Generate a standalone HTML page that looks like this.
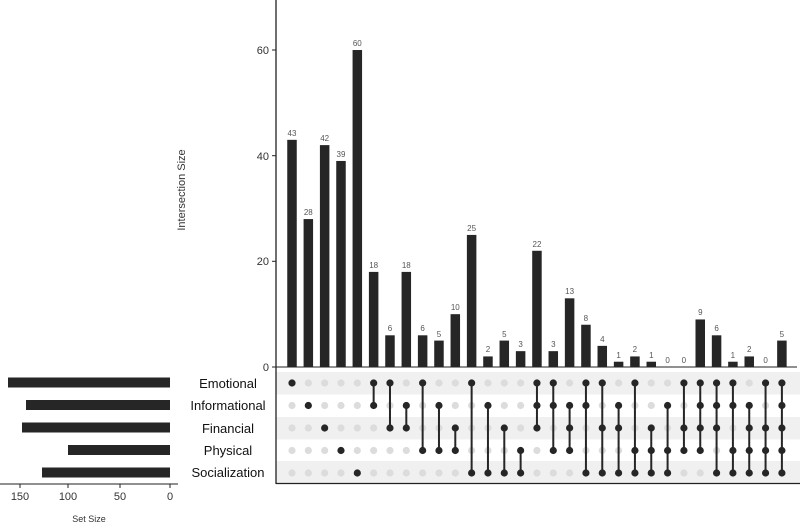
<!DOCTYPE html>
<html><head><meta charset="utf-8"><style>
html,body{margin:0;padding:0;background:#fff;}
svg{display:block;font-family:"Liberation Sans",Arial,sans-serif;}
.c{font-size:8px;fill:#555;text-anchor:middle;}
.t{font-size:11px;fill:#333;}
.s{font-size:13px;fill:#111;text-anchor:middle;}
</style></head><body>
<svg id="g" width="800" height="523" viewBox="0 0 800 523" xmlns="http://www.w3.org/2000/svg">
<rect x="276" y="372" width="524" height="22.5" fill="#f0f0f0"/>
<rect x="276" y="417" width="524" height="22.5" fill="#f0f0f0"/>
<rect x="276" y="461" width="524" height="22.5" fill="#f0f0f0"/>
<line x1="276" y1="0" x2="276" y2="484" stroke="#222" stroke-width="1.3"/>
<line x1="276" y1="367" x2="797" y2="367" stroke="#222" stroke-width="1"/>
<line x1="276" y1="483.5" x2="800" y2="483.5" stroke="#222" stroke-width="1.3"/>
<g stroke="#222"><line x1="272" y1="367" x2="276" y2="367"/><line x1="272" y1="261.3" x2="276" y2="261.3"/><line x1="272" y1="155.7" x2="276" y2="155.7"/><line x1="272" y1="50" x2="276" y2="50"/></g>
<text class="t" x="269" y="371" text-anchor="end">0</text>
<text class="t" x="269" y="265" text-anchor="end">20</text>
<text class="t" x="269" y="160" text-anchor="end">40</text>
<text class="t" x="269" y="54" text-anchor="end">60</text>
<text class="t" transform="translate(185,190) rotate(-90)" text-anchor="middle">Intersection Size</text>
<g id="shapes"></g>
<g class="c">
<text x="292.0" y="136">43</text><text x="308.3" y="215">28</text><text x="324.7" y="141">42</text><text x="341.0" y="157">39</text><text x="357.3" y="46">60</text><text x="373.7" y="268">18</text><text x="390.0" y="331">6</text><text x="406.3" y="268">18</text><text x="422.6" y="331">6</text><text x="439.0" y="337">5</text><text x="455.3" y="310">10</text><text x="471.6" y="231">25</text><text x="488.0" y="352">2</text><text x="504.3" y="337">5</text><text x="520.6" y="347">3</text><text x="537.0" y="247">22</text><text x="553.3" y="347">3</text><text x="569.6" y="294">13</text><text x="585.9" y="321">8</text><text x="602.3" y="342">4</text><text x="618.6" y="358">1</text><text x="634.9" y="352">2</text><text x="651.3" y="358">1</text><text x="667.6" y="363">0</text><text x="683.9" y="363">0</text><text x="700.3" y="315">9</text><text x="716.6" y="331">6</text><text x="732.9" y="358">1</text><text x="749.2" y="352">2</text><text x="765.6" y="363">0</text><text x="781.9" y="337">5</text>
</g>
<text class="s" x="228" y="388">Emotional</text>
<text class="s" x="228" y="410">Informational</text>
<text class="s" x="228" y="433">Financial</text>
<text class="s" x="228" y="455">Physical</text>
<text class="s" x="228" y="477">Socialization</text>
<rect x="8" y="377.5" width="162" height="10" fill="#262626"/>
<rect x="26" y="400" width="144" height="10" fill="#262626"/>
<rect x="22" y="422.5" width="148" height="10" fill="#262626"/>
<rect x="68" y="445" width="102" height="10" fill="#262626"/>
<rect x="42" y="467.5" width="128" height="10" fill="#262626"/>
<line x1="0" y1="484" x2="178" y2="484" stroke="#222" stroke-width="1"/>
<g stroke="#222"><line x1="20" y1="484" x2="20" y2="488"/><line x1="68" y1="484" x2="68" y2="488"/><line x1="120" y1="484" x2="120" y2="488"/><line x1="170" y1="484" x2="170" y2="488"/></g>
<text class="t" x="20" y="500" text-anchor="middle">150</text>
<text class="t" x="68" y="500" text-anchor="middle">100</text>
<text class="t" x="120" y="500" text-anchor="middle">50</text>
<text class="t" x="170" y="500" text-anchor="middle">0</text>
<text x="89" y="522" text-anchor="middle" style="font-size:9px;fill:#333">Set Size</text>
</svg>
<script>
var vals=[43,28,42,39,60,18,6,18,6,5,10,25,2,5,3,22,3,13,8,4,1,2,1,0,0,9,6,1,2,0,5];
var sets=["E","I","F","P","S","EI","EF","IF","EP","IP","FP","ES","IS","FS","PS","EIF","EIP","IFP","EIS","EFS","IFS","EPS","FPS","IPS","EFP","EIFP","EIFS","EIPS","IFPS","EFPS","EIFPS"];
var rows={E:383,I:405.5,F:428,P:450.5,S:473};var order="EIFPS";
var h="";
for(var i=0;i<31;i++){var x=292+16.33*i;var v=vals[i];
if(v>0)h+='<rect x="'+(x-4.75)+'" y="'+(367-v*5.283)+'" width="9.5" height="'+(v*5.283)+'" fill="#262626"/>';
var s=sets[i];var ys=[];
for(var k=0;k<5;k++){var r=order[k];var on=s.indexOf(r)>=0;if(on)ys.push(rows[r]);
h+='<circle cx="'+x+'" cy="'+rows[r]+'" r="3.6" fill="'+(on?'#262626':'#dcdcdc')+'"/>';}
if(ys.length>1)h+='<line x1="'+x+'" y1="'+ys[0]+'" x2="'+x+'" y2="'+ys[ys.length-1]+'" stroke="#262626" stroke-width="2"/>';}
document.getElementById("shapes").innerHTML=h;
</script>
</body></html>
